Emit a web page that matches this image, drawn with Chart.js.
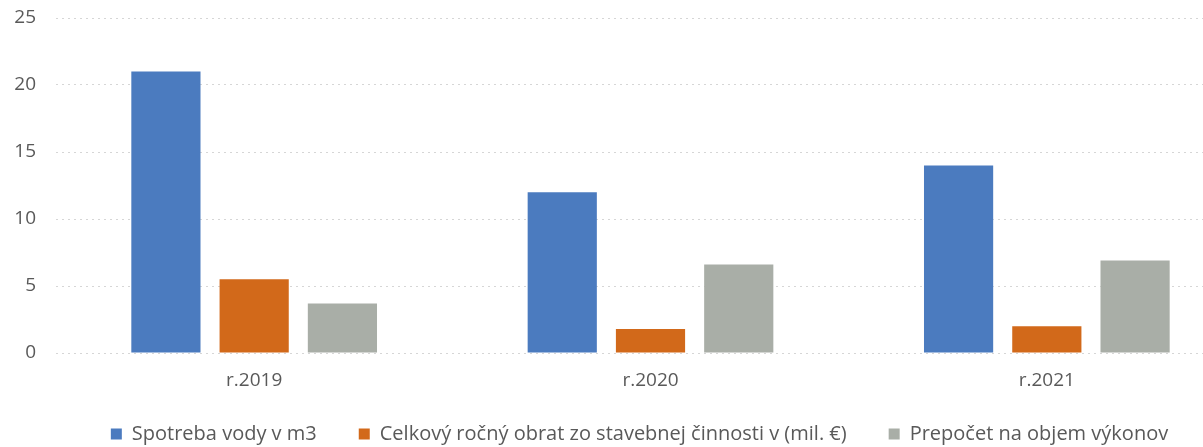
<!DOCTYPE html>
<html>
<head>
<meta charset="utf-8">
<script src="https://cdn.jsdelivr.net/npm/chart.js@4"></script>
<style>
  html, body { margin: 0; padding: 0; background: #fff; overflow: hidden; }
  #clip { width: 1203px; height: 447px; overflow: hidden; }
  #wrap { width: 1245px; height: 447px; }
</style>
</head>
<body>
<div id="clip"><div id="wrap"><canvas id="waterChart"></canvas></div></div>
<script>
const categories = ["r.2019", "r.2020", "r.2021"];
const waterUse = [21, 12, 14];
const turnover = [5.5, 1.8, 2.0];
const perOutput = [3.7, 6.6, 6.9];
const yTicks = [0, 5, 10, 15, 20, 25];

const FONT = "'Open Sans', sans-serif";
const TEXT = "#595959";
const LEGEND_HEIGHT = 50;
const LEGEND_ITEM_TOP = 27; // offset of the legend row inside its box
const LEGEND_SHIFT_X = 17;

// wide gaps between legend items without the tall box that padding would give
const compactLegend = {
  id: "compactLegend",
  beforeUpdate(chart) {
    const lg = chart.legend;
    if (lg && !lg._compact) {
      const fit = lg.fit.bind(lg);
      const draw = lg.draw.bind(lg);
      lg.fit = function () {
        fit();
        this.height = LEGEND_HEIGHT;
      };
      lg.draw = function () {
        const { top, left, right } = this;
        this.top = top + LEGEND_ITEM_TOP - this.options.labels.padding;
        this.left = left + LEGEND_SHIFT_X;
        this.right = right + LEGEND_SHIFT_X;
        draw();
        Object.assign(this, { top, left, right });
      };
      lg._compact = true;
    }
  },
};

new Chart(document.getElementById("waterChart"), {
  type: "bar",
  data: {
    labels: categories,
    datasets: [
      { label: "Spotreba vody v m3", data: waterUse, backgroundColor: "#4b7bbf" },
      { label: "Celkový ročný obrat zo stavebnej činnosti v (mil. €)", data: turnover, backgroundColor: "#d2691a" },
      { label: "Prepočet na objem výkonov", data: perOutput, backgroundColor: "#a9aea7" },
    ],
  },
  options: {
    responsive: true,
    maintainAspectRatio: false,
    animation: false,
    categoryPercentage: 0.668,
    barPercentage: 0.784,
    layout: { padding: { top: 18, left: 0, right: 0, bottom: 0 } },
    plugins: {
      tooltip: { enabled: false },
      legend: {
        position: "bottom",
        labels: {
          boxWidth: 11,
          boxHeight: 11,
          padding: 42,
          color: TEXT,
          font: { family: FONT, size: 20 },
        },
      },
    },
    scales: {
      x: {
        grid: { display: false, drawTicks: false },
        border: { display: false },
        afterFit: (axis) => { axis.height = 44; },
        ticks: { color: TEXT, font: { family: FONT, size: 19 }, padding: 16 },
      },
      y: {
        min: 0,
        max: 25,
        afterBuildTicks: (axis) => { axis.ticks = yTicks.map((v) => ({ value: v })); },
        afterFit: (axis) => {
          axis.width = 56;
          axis.paddingTop = 0;
          axis.paddingBottom = 0;
        },
        border: { display: false, dash: [2, 4] },
        grid: { color: "#d6d6d6", lineWidth: 1, drawTicks: false },
        ticks: { color: TEXT, font: { family: FONT, size: 19 }, padding: 20 },
      },
    },
  },
  plugins: [compactLegend],
});
</script>
</body>
</html>
